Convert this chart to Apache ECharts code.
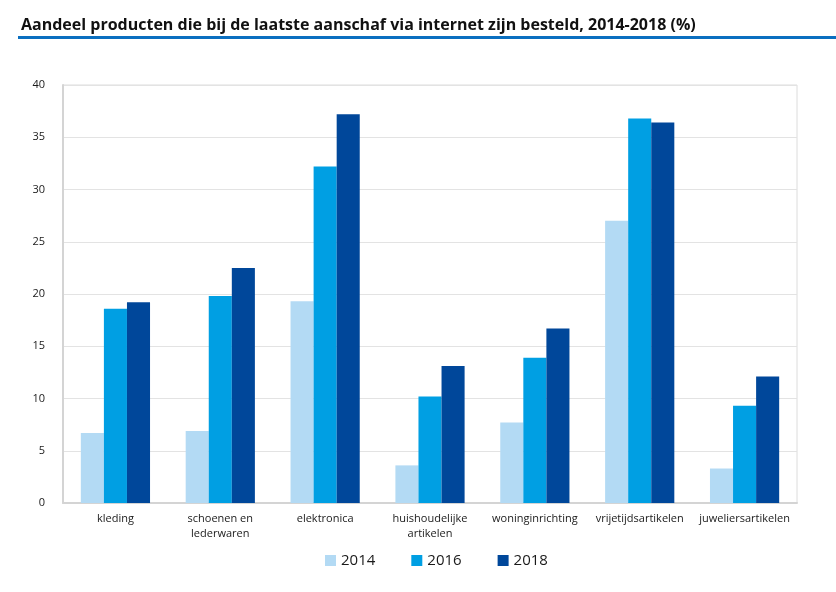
<!DOCTYPE html>
<html><head><meta charset="utf-8">
<script src="https://cdn.jsdelivr.net/npm/echarts@6/dist/echarts.min.js"></script>
<style>html,body{margin:0;padding:0;background:#fff}#c{width:836px;height:592px}</style>
</head><body><div id="c"></div>
<script>
const categories = ['kleding', 'schoenen en\nlederwaren', 'elektronica', 'huishoudelijke\nartikelen', 'woninginrichting', 'vrijetijdsartikelen', 'juweliersartikelen'];
const years = ['2014', '2016', '2018'];
const v2014 = [6.7, 6.9, 19.3, 3.6, 7.7, 27.0, 3.3];
const v2016 = [18.6, 19.8, 32.2, 10.2, 13.9, 36.8, 9.3];
const v2018 = [19.2, 22.5, 37.2, 13.1, 16.7, 36.4, 12.1];
const yTicks = [0, 5, 10, 15, 20, 25, 30, 35, 40];
const colors = ['#b3daf4', '#009fe3', '#00479a'];
const seriesValues = [v2014, v2016, v2018];

const chart = echarts.init(document.getElementById('c'));
chart.setOption({
  animation: false,
  textStyle: { fontFamily: 'Open Sans', color: '#1a1a1a' },
  title: {
    text: 'Aandeel producten die bij de laatste aanschaf via internet zijn besteld, 2014-2018 (%)',
    left: 16, top: 12,
    textStyle: { fontFamily: 'Open Sans', fontWeight: 'bold', fontSize: 16, color: '#111' }
  },
  graphic: [{ type: 'rect', shape: { x: 18, y: 36, width: 818, height: 3 }, style: { fill: '#0a6fc0' } }],
  legend: {
    data: years, bottom: 19, left: 320, itemWidth: 11, itemHeight: 11, itemGap: 36,
    icon: 'rect', textStyle: { fontSize: 15, color: '#1a1a1a' }
  },
  grid: { left: 63, right: 39, top: 85, bottom: 89, show: true, borderColor: '#dcdcdc', borderWidth: 1 },
  xAxis: {
    type: 'category', data: categories,
    axisLine: { lineStyle: { color: '#d4d4d4', width: 2 } },
    axisTick: { show: false },
    axisLabel: { fontSize: 11, color: '#1a1a1a', margin: 8, lineHeight: 15, interval: 0 }
  },
  yAxis: {
    type: 'value', min: yTicks[0], max: yTicks[yTicks.length - 1], interval: 5,
    axisLine: { show: true, lineStyle: { color: '#d4d4d4', width: 2 } },
    axisTick: { show: false },
    splitLine: { lineStyle: { color: '#e3e3e3', width: 1 } },
    axisLabel: { fontSize: 11, color: '#1a1a1a', margin: 18 }
  },
  series: years.map((y, i) => ({
    name: y, type: 'bar', data: seriesValues[i],
    itemStyle: { color: colors[i] },
    barGap: '0%', barCategoryGap: '34%'
  }))
});
</script></body></html>
